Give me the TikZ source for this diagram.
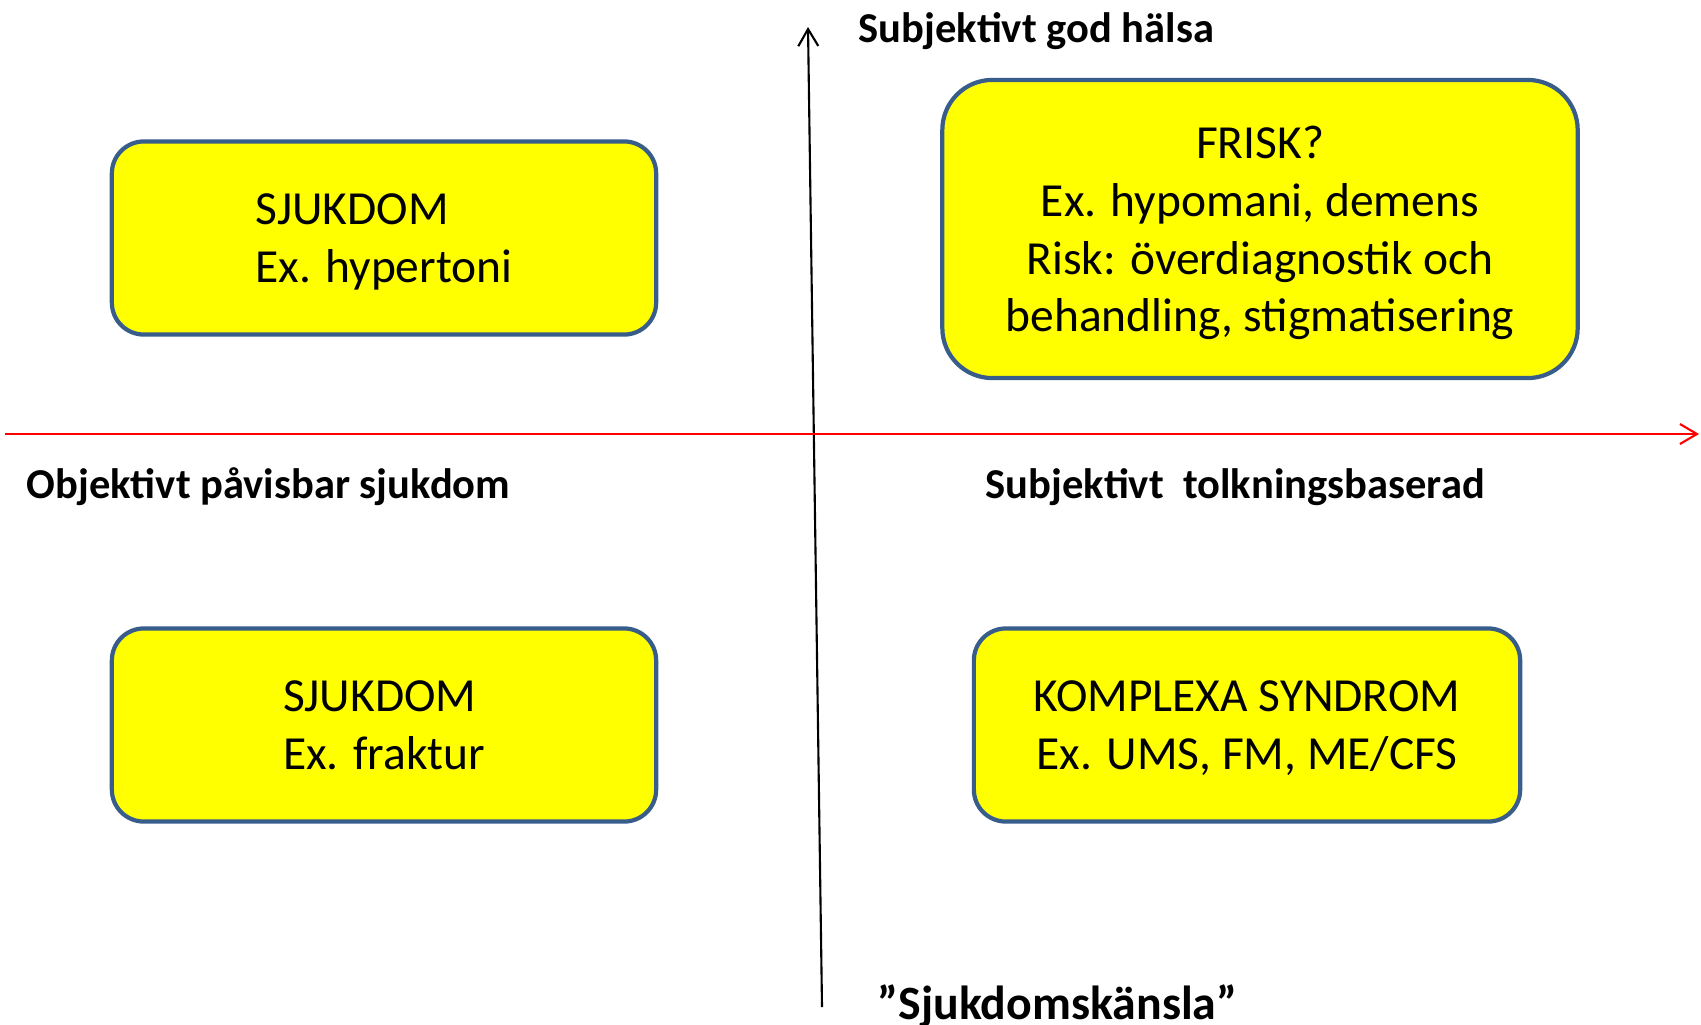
\documentclass[tikz,border=0pt]{standalone}
\usepackage{fontspec}
\setmainfont{Carlito}
\usetikzlibrary{arrows.meta, positioning}
\definecolor{boxblue}{RGB}{56,93,138}
\definecolor{boxyellow}{RGB}{255,255,0}

\begin{document}
\begin{tikzpicture}[x=0.01cm, y=-0.01cm,
    quadbox/.style={draw=boxblue, line width=1.2pt, fill=boxyellow,
        rounded corners=0.32cm, minimum width=5.44cm, minimum height=1.93cm,
        text depth=0pt, font=\fontsize{13.5}{16.4}\selectfont},
    axislabel/.style={anchor=base west, inner sep=0pt,
        font=\fontsize{12.1}{14}\selectfont\bfseries},
    axisarrow/.style={-{Straight Barb[length=1.7mm, width=2mm]}, line width=0.6pt}]
    \useasboundingbox (0,0) rectangle (1701,1024);

    % Axes
    \coordinate (ybot) at (822,1007);
    \coordinate (ytop) at (808,27);
    \coordinate (xleft) at (5,434);
    \coordinate (xright) at (1699,434);
    \draw[axisarrow, black] (ybot) -- (ytop);
    \draw[axisarrow, red] (xleft) -- (xright);

    % Quadrants
    \node[quadbox, align=left] (sjukTL) at (384,238) {SJUKDOM\\Ex. hypertoni};
    \node[quadbox, align=center, minimum width=6.35cm, minimum height=2.98cm,
          rounded corners=0.5cm] (frisk) at (1260,229)
          {FRISK?\\Ex. hypomani, demens\\Risk: överdiagnostik och\\behandling, stigmatisering};
    \node[quadbox, align=left] (sjukBL) at (384,725) {SJUKDOM\\Ex. fraktur};
    \node[quadbox, align=center, minimum width=5.46cm] (komplex) at (1247,725)
          {KOMPLEXA SYNDROM\\Ex. UMS, FM, ME/CFS};

    % Axis labels
    \node[axislabel] (godhalsa) at (858,42) {Subjektivt god hälsa};
    \node[axislabel] (objektiv) at (26,498) {Objektivt påvisbar sjukdom};
    \node[axislabel] (tolkning) at (985,498) {Subjektivt~ tolkningsbaserad};
    \node[axislabel, font=\fontsize{13.6}{16}\selectfont\bfseries] (kansla) at (877,1019)
          {”Sjukdomskänsla”};
\end{tikzpicture}
\end{document}
